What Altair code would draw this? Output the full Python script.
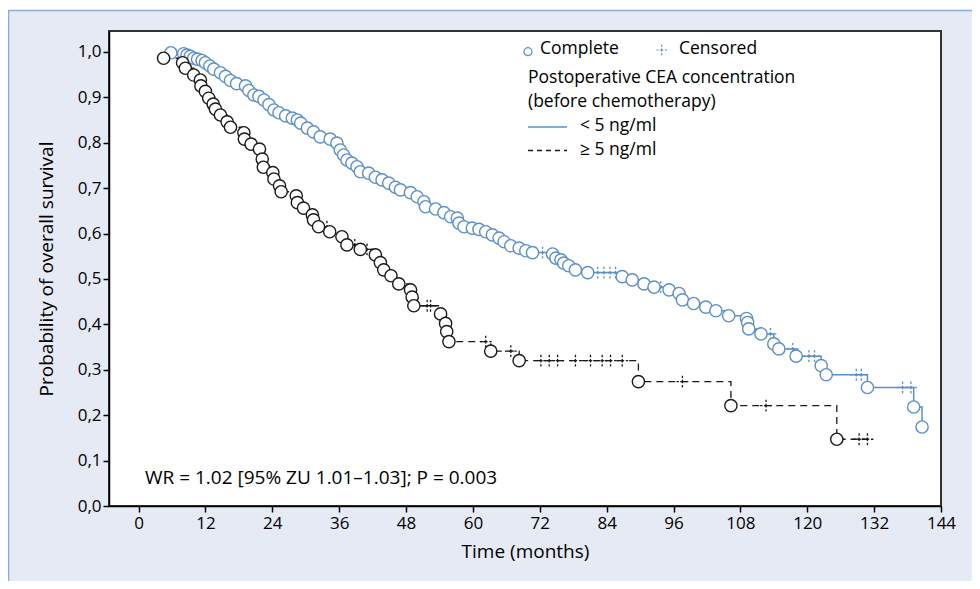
import altair as alt
import pandas as pd

FONT = "Open Sans"
BLUE = "#5a8fcd"
BLACK = "#1a1a1a"
PANEL = "#e6eaf5"
PANEL_LINE = "#8cabd8"

X_TICKS = list(range(0, 145, 12))
Y_TICKS = [round(i * 0.1, 1) for i in range(11)]

# < 5 ng/ml : events (time in months, survival) and censored observations
blue_event_t = [5.8, 8.1, 8.7, 9.3, 9.9, 10.6, 11.4, 12.0, 12.8, 13.5,
                14.7, 15.6, 16.5, 17.6, 19.2, 19.8, 20.7, 21.6, 22.5, 23.4,
                24.3, 25.2, 26.4, 27.6, 28.5, 29.1, 30.3, 31.4, 32.6, 34.4,
                35.6, 36.2, 36.8, 37.4, 38.3, 39.2, 39.8, 41.3, 42.5, 43.7,
                44.9, 46.1, 47.0, 48.8, 50.0, 51.2, 51.5, 53.3, 54.8, 56.0,
                57.2, 57.5, 58.4, 59.9, 61.1, 62.3, 63.5, 64.7, 65.6, 66.8,
                68.3, 69.5, 70.7, 74.3, 74.9, 75.8, 76.3, 77.2, 78.4, 80.6,
                86.8, 88.6, 90.7, 92.5, 95.2, 97.0, 97.6, 99.6, 101.8, 103.6,
                105.9, 109.1, 109.3, 109.5, 111.7, 114.0, 114.9, 118.0, 122.5, 123.4,
                130.8, 139.1, 140.6]
blue_event_s = [0.998, 0.996, 0.993, 0.990, 0.986, 0.984, 0.981, 0.976, 0.969, 0.962,
                0.954, 0.946, 0.937, 0.930, 0.925, 0.915, 0.905, 0.902, 0.894, 0.884,
                0.872, 0.866, 0.859, 0.854, 0.850, 0.843, 0.832, 0.824, 0.813, 0.808,
                0.799, 0.784, 0.773, 0.762, 0.755, 0.747, 0.736, 0.733, 0.724, 0.718,
                0.711, 0.702, 0.696, 0.690, 0.681, 0.670, 0.659, 0.654, 0.646, 0.637,
                0.634, 0.623, 0.615, 0.612, 0.609, 0.604, 0.597, 0.590, 0.582, 0.573,
                0.568, 0.562, 0.558, 0.555, 0.546, 0.542, 0.535, 0.529, 0.520, 0.514,
                0.505, 0.498, 0.489, 0.482, 0.476, 0.468, 0.454, 0.446, 0.438, 0.430,
                0.419, 0.413, 0.404, 0.390, 0.379, 0.357, 0.346, 0.330, 0.309, 0.289,
                0.261, 0.218, 0.174]
blue_cens_t = [72.5, 82.4, 83.5, 84.6, 85.6, 93.7, 113.4, 117.4, 120.3, 121.3,
               128.8, 129.7, 137.1, 138.6]
blue_cens_s = [0.558, 0.514, 0.514, 0.514, 0.514, 0.482, 0.379, 0.346, 0.330, 0.330,
               0.289, 0.289, 0.261, 0.261]

# >= 5 ng/ml
black_event_t = [4.5, 7.9, 8.4, 9.9, 11.1, 11.2, 12.0, 12.6, 13.4, 13.8,
                 14.7, 15.9, 16.5, 18.9, 19.0, 20.2, 21.7, 22.2, 22.4, 24.1,
                 24.3, 25.3, 25.6, 28.3, 28.5, 29.6, 31.2, 31.4, 32.3, 34.3,
                 36.5, 37.4, 39.8, 42.5, 43.4, 44.0, 45.3, 46.7, 48.8, 49.1,
                 49.4, 54.2, 55.1, 55.3, 55.7, 63.2, 68.3, 89.7, 106.3, 125.3]
black_event_s = [0.986, 0.976, 0.964, 0.949, 0.938, 0.925, 0.913, 0.898, 0.885, 0.874,
                 0.861, 0.846, 0.834, 0.822, 0.808, 0.797, 0.786, 0.764, 0.746, 0.734,
                 0.720, 0.705, 0.692, 0.683, 0.668, 0.656, 0.641, 0.630, 0.615, 0.604,
                 0.593, 0.575, 0.565, 0.553, 0.536, 0.520, 0.507, 0.489, 0.476, 0.460,
                 0.441, 0.423, 0.402, 0.384, 0.362, 0.341, 0.320, 0.274, 0.221, 0.147]
black_cens_t = [33.8, 38.8, 41.0, 51.8, 52.4, 62.3, 66.8, 72.2, 73.7, 75.2,
                78.4, 81.1, 83.2, 84.7, 86.8, 97.6, 112.6, 129.3, 130.8]
black_cens_s = [0.615, 0.575, 0.565, 0.441, 0.441, 0.362, 0.341, 0.320, 0.320, 0.320,
                0.320, 0.320, 0.320, 0.320, 0.320, 0.274, 0.221, 0.147, 0.147]

W, H = 832, 475
PAD = {"left": 101, "top": 23, "right": 31, "bottom": 75}

CENSOR = "M-1,0H-0.6M-0.3,0H0.3M0.6,0H1M0,-1V-0.6M0,-0.3V0.3M0,0.6V1"


def step_frame(et, es, ct, cs):
    rows = list(zip(et, es)) + list(zip(ct, cs))
    rows.sort(key=lambda r: (r[0], -r[1]))
    return pd.DataFrame(rows, columns=["t", "s"])


blue_line = step_frame(blue_event_t, blue_event_s, blue_cens_t, blue_cens_s)
black_line = step_frame(black_event_t, black_event_s, black_cens_t, black_cens_s)
blue_ev = pd.DataFrame({"t": blue_event_t, "s": blue_event_s})
black_ev = pd.DataFrame({"t": black_event_t, "s": black_event_s})
blue_ce = pd.DataFrame({"t": blue_cens_t, "s": blue_cens_s})
black_ce = pd.DataFrame({"t": black_cens_t, "s": black_cens_s})

xs = alt.Scale(domain=[-5.3, 144], nice=False, zero=False)
ys = alt.Scale(domain=[0, 1.046], nice=False, zero=False)

common_axis = dict(grid=False, zindex=1, domainColor="black", tickColor="black",
                   domainWidth=1.5, tickWidth=1.5, tickSize=6, labelColor="black",
                   titleColor="black", labelFont=FONT, titleFont=FONT,
                   labelFontSize=17, titleFontSize=19, titleFontWeight="normal",
                   labelFlush=False, labelOverlap=False)
xaxis = alt.Axis(values=X_TICKS, title="Time (months)", titleX=416, titleY=45,
                 titleBaseline="middle", titleAlign="center", labelPadding=3,
                 **common_axis)
yaxis = alt.Axis(values=Y_TICKS, title="Probability of overall survival",
                 labelExpr="replace(format(datum.value, '.1f'), '.', ',')",
                 titleX=-63, titleY=237.5, titleAngle=-90, titleBaseline="middle",
                 titleAlign="center", labelPadding=2, **common_axis)

X = alt.X("t:Q", scale=xs, axis=xaxis)
Y = alt.Y("s:Q", scale=ys, axis=yaxis)

dummy = alt.Data(values=[{"a": 1}])

panel = alt.Chart(dummy).mark_rect(fill=PANEL, strokeWidth=0).encode(
    x=alt.value(-101), x2=alt.value(W + PAD["right"]),
    y=alt.value(-21), y2=alt.value(H + PAD["bottom"]))
panel_left = alt.Chart(dummy).mark_rule(color=PANEL_LINE, strokeWidth=1.5).encode(
    x=alt.value(-100.5), y=alt.value(-21), y2=alt.value(H + PAD["bottom"]))
panel_top = alt.Chart(dummy).mark_rule(color=PANEL_LINE, strokeWidth=1.5).encode(
    x=alt.value(-101), x2=alt.value(W + PAD["right"]), y=alt.value(-20.5))
plot_bg = alt.Chart(dummy).mark_rect(fill="white", stroke="#333333", strokeWidth=2).encode(
    x=alt.value(0), x2=alt.value(W), y=alt.value(0), y2=alt.value(H))

hr_text = alt.Chart(dummy).mark_text(
    text="WR = 1.02 [95% ZU 1.01\u20131.03]; P = 0.003", align="left",
    baseline="middle", font=FONT, fontSize=19, color="black").encode(
    x=alt.value(36), y=alt.value(447))

line_b = alt.Chart(blue_line).mark_line(interpolate="step-after", color=BLUE,
                                        strokeWidth=1.5).encode(x=X, y=Y)
line_k = alt.Chart(black_line).mark_line(interpolate="step-after", color=BLACK,
                                         strokeWidth=1.3, strokeDash=[7, 5]).encode(x=X, y=Y)
cens_b = alt.Chart(blue_ce).mark_point(shape=CENSOR, size=140, filled=False,
                                       stroke=BLUE, strokeWidth=1.3, opacity=1).encode(x=X, y=Y)
cens_k = alt.Chart(black_ce).mark_point(shape=CENSOR, size=140, filled=False,
                                        stroke=BLACK, strokeWidth=1.3, opacity=1).encode(x=X, y=Y)
ev_b = alt.Chart(blue_ev).mark_point(shape="circle", size=150, filled=True, fill="white",
                                     stroke=BLUE, strokeWidth=1.4, opacity=1).encode(x=X, y=Y)
ev_k = alt.Chart(black_ev).mark_point(shape="circle", size=150, filled=True, fill="white",
                                      stroke=BLACK, strokeWidth=1.4, opacity=1).encode(x=X, y=Y)


def legend_text(txt, x, y):
    return alt.Chart(dummy).mark_text(text=txt, align="left", baseline="middle",
                                      font=FONT, fontSize=17.5, color="black").encode(
        x=alt.value(x), y=alt.value(y))


leg_circle = alt.Chart(dummy).mark_point(shape="circle", size=64, filled=False,
                                         stroke=BLUE, strokeWidth=1.2, opacity=1).encode(
    x=alt.value(419), y=alt.value(20.7))
leg_cens = alt.Chart(dummy).mark_point(shape=CENSOR, size=110, filled=False,
                                       stroke=BLUE, strokeWidth=1.2, opacity=1).encode(
    x=alt.value(552.7), y=alt.value(19))
leg_line_b = alt.Chart(dummy).mark_rule(color=BLUE, strokeWidth=1.5).encode(
    x=alt.value(419), x2=alt.value(458), y=alt.value(96))
leg_line_k = alt.Chart(dummy).mark_rule(color=BLACK, strokeWidth=1.3, strokeDash=[5, 4]).encode(
    x=alt.value(419), x2=alt.value(458), y=alt.value(119.5))

chart = alt.layer(
    panel, panel_left, panel_top, plot_bg, hr_text,
    line_b, line_k, cens_b, cens_k, ev_b, ev_k,
    leg_circle, leg_cens, leg_line_b, leg_line_k,
    legend_text("Complete", 431, 18.3),
    legend_text("Censored", 570, 18.3),
    legend_text("Postoperative CEA concentration", 419, 46.5),
    legend_text("(before chemotherapy)", 419, 70.5),
    legend_text("< 5 ng/ml", 471, 95),
    legend_text("\u2265 5 ng/ml", 471, 119),
).properties(
    width=W, height=H, padding=PAD,
    autosize=alt.AutoSizeParams(type="none"),
    background="white",
).configure(font=FONT).configure_view(stroke=None, fill=None)

chart.save("out.html", embed_options={"renderer": "svg", "actions": False})
